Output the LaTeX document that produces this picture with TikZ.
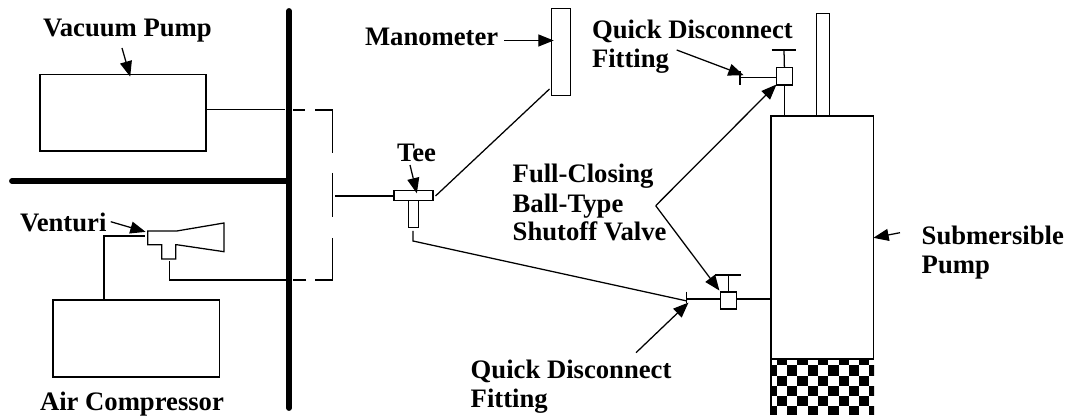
\documentclass[tikz,border=0pt]{standalone}
\usepackage{fontspec}
\setmainfont{Liberation Serif}
\usetikzlibrary{arrows.meta}
\tikzset{
  pipe/.style={line width=0.95pt,line cap=butt},
  wall/.style={line width=4.4pt,line cap=round},
  box/.style 2 args={draw,line width=1pt,fill=white,inner sep=0pt,outer sep=0pt,
    minimum width=#1*0.75pt,minimum height=#2*0.75pt},
  pointer/.style={line width=0.95pt,-{Triangle[length=11.5pt,width=9pt]},shorten >=-0.5pt},
  lbl/.style={font=\bfseries\fontsize{20pt}{24pt}\selectfont,anchor=base west,inner sep=0pt,outer sep=0pt,text=black},
}
\begin{document}
\begin{tikzpicture}[x=0.75pt,y=-0.75pt]
\useasboundingbox (0,0) rectangle (1066,420);
% walls
\coordinate (wallT) at (289,11);
\coordinate (wallB) at (289,408);
\coordinate (floorL) at (12,181);
\coordinate (floorR) at (289,181);
\draw[wall] (wallT) -- (wallB);
\draw[wall] (floorL) -- (floorR);
% equipment boxes
\node[box={166}{76.5}] (vac) at (123,112.8) {};
\node[box={166.5}{77}] (comp) at (136.3,338.5) {};
\node[box={19}{87}] (mano) at (560.8,52) {};
\node[box={102.5}{243}] (pump) at (822.2,237.5) {};
\node[box={13}{102.5}] (tube) at (822.8,64.8) {};
% checker
\begin{scope}
  \clip (771,359.3) rectangle (874,414.5);
  \foreach \r/\ya/\yb in {0/359/365,1/365/375.7,2/375.7/385.7,3/385.7/395.7,4/395.7/406,5/406/415}{
    \foreach \c in {0,...,10}{
      \pgfmathparse{int(mod(\r+\c,2))}
      \ifnum\pgfmathresult=1
        \fill[black] ({776.7+10.3*(\c-1)},\ya) rectangle ({776.7+10.3*\c},\yb);
      \fi
    }
  }
\end{scope}
\draw[line width=1pt] (771,359.3) -- (874,359.3) (771,359) -- (771,414.5);
% venturi
\draw[pipe] (147.7,231) -- (176.7,231) -- (224,223) -- (224,251.7) -- (176.7,244.7) -- (175.7,244.7)
  -- (175.7,259) -- (161.7,259) -- (161.7,244.7) -- (147.7,244.7) -- cycle;
% tee and valves
\node[box={39}{10}] (teeBar) at (413.5,195.7) {};
\node[box={10}{27}] (teeStem) at (413.5,214) {};
\node[box={16}{17.5}] (valveU) at (784.4,76.2) {};
\node[box={16}{17}] (valveL) at (728.8,300.5) {};
% valve handles
\coordinate (hUtop) at (784,50);
\coordinate (hUa) at (771.5,50);
\coordinate (hUb) at (796,50);
\draw[pipe] (hUa) -- (hUb);
\draw[pipe] (valveU.north) -- (hUtop);
\coordinate (hLtop) at (728.8,275);
\coordinate (hLa) at (715,275);
\coordinate (hLb) at (741,275);
\draw[pipe] (hLa) -- (hLb);
\draw[pipe] (valveL.north) -- (hLtop);
% upper fitting
\coordinate (fitU) at (740,77.5);
\coordinate (fitUa) at (740,71);
\coordinate (fitUb) at (740,85);
\draw[pipe] (fitU) -- (valveU.west |- fitU);
\draw[pipe] (fitUa) -- (fitUb);
\draw[pipe] (valveU.south) -- (valveU.south |- pump.north);
% lower fitting
\coordinate (fitL) at (687,299);
\coordinate (fitLa) at (686.7,291.5);
\coordinate (fitLb) at (686.7,303);
\draw[pipe] (fitL) -- (valveL.west |- fitL);
\draw[pipe] (valveL.east |- fitL) -- (pump.west |- fitL);
\draw[pipe] (fitLa) -- (fitLb);
% plumbing
\coordinate (stemOut) at (413,231);
\coordinate (stemBend) at (413,241);
\coordinate (fitEnd) at (687,301);
\draw[pipe] (stemOut) -- (stemBend) -- (fitEnd);
\coordinate (teeOutR) at (435.5,196);
\coordinate (manoIn) at (549.5,89);
\draw[pipe] (teeOutR) -- (manoIn);
\coordinate (teeInL) at (335,196);
\draw[pipe] (teeInL) -- (teeBar.west |- teeInL);
\coordinate (vacOut) at (206,109.5);
\coordinate (vacEnd) at (285,109.5);
\draw[pipe] (vacOut) -- (vacEnd);
\coordinate (compOut) at (104,300);
\coordinate (compUp) at (104,236);
\coordinate (compEnd) at (145,236);
\draw[pipe] (compOut) -- (compUp) -- (compEnd);
\coordinate (ventOut) at (169.7,261);
\coordinate (ventDown) at (169.7,280);
\coordinate (ventEnd) at (288,280);
\draw[pipe] (ventOut) -- (ventDown) -- (ventEnd);
% dashed run beyond the wall
\coordinate (dA) at (293,110);
\coordinate (dB) at (305,110);
\coordinate (dC) at (315,110);
\coordinate (dD) at (332.5,110);
\coordinate (dE) at (332.5,153);
\coordinate (dF) at (332.5,173);
\coordinate (dG) at (332.5,217);
\coordinate (dH) at (332.5,238);
\coordinate (dI) at (332.5,280);
\coordinate (dJ) at (315,280);
\coordinate (dK) at (306,280);
\coordinate (dL) at (293,280);
\draw[pipe] (dA) -- (dB) (dC) -- (dD) -- (dE) (dF) -- (dG) (dH) -- (dI) -- (dJ) (dK) -- (dL);
% labels
\node[lbl] (tVac) at (43,36.5) {Vacuum Pump};
\node[lbl] (tMano) at (365,46) {Manometer};
\node[lbl] (tQ1) at (592,38.5) {Quick Disconnect};
\node[lbl] (tF1) at (592,67.7) {Fitting};
\node[lbl] (tTee) at (397,161.7) {Tee};
\node[lbl] (tFull) at (512.7,182.7) {Full-Closing};
\node[lbl] (tBall) at (512.7,212.7) {Ball-Type};
\node[lbl] (tShut) at (512.7,240.7) {Shutoff Valve};
\node[lbl] (tVen) at (20,232) {Venturi};
\node[lbl] (tAir) at (40,410.5) {Air Compressor};
\node[lbl] (tQ2) at (470.7,378) {Quick Disconnect};
\node[lbl] (tF2) at (470.7,407) {Fitting};
\node[lbl] (tSub) at (921.7,244) {Submersible};
\node[lbl] (tPump) at (921.7,273) {Pump};
% pointers
\coordinate (pVacA) at (122,48);
\coordinate (pVacB) at (130,76);
\draw[pointer] (pVacA) -- (pVacB);
\coordinate (pManA) at (504,40.5);
\coordinate (pManB) at (553,40.5);
\draw[pointer] (pManA) -- (pManB);
\coordinate (pVenA) at (110.7,221.7);
\coordinate (pVenB) at (145,231.7);
\draw[pointer] (pVenA) -- (pVenB);
\coordinate (pTeeA) at (410,165);
\coordinate (pTeeB) at (416.7,192.7);
\draw[pointer] (pTeeA) -- (pTeeB);
\coordinate (pQ1A) at (676.7,50);
\coordinate (pQ1B) at (743,75);
\draw[pointer] (pQ1A) -- (pQ1B);
\coordinate (apex) at (655.7,205.7);
\coordinate (pBallU) at (776,85);
\coordinate (pBallL) at (719,290);
\draw[pointer] (apex) -- (pBallU);
\draw[pointer] (apex) -- (pBallL);
\coordinate (pQ2A) at (636,352.7);
\coordinate (pQ2B) at (688,303);
\draw[pointer] (pQ2A) -- (pQ2B);
\coordinate (pSubA) at (900,232.7);
\coordinate (pSubB) at (874,237.7);
\draw[pointer] (pSubA) -- (pSubB);
\end{tikzpicture}
\end{document}
